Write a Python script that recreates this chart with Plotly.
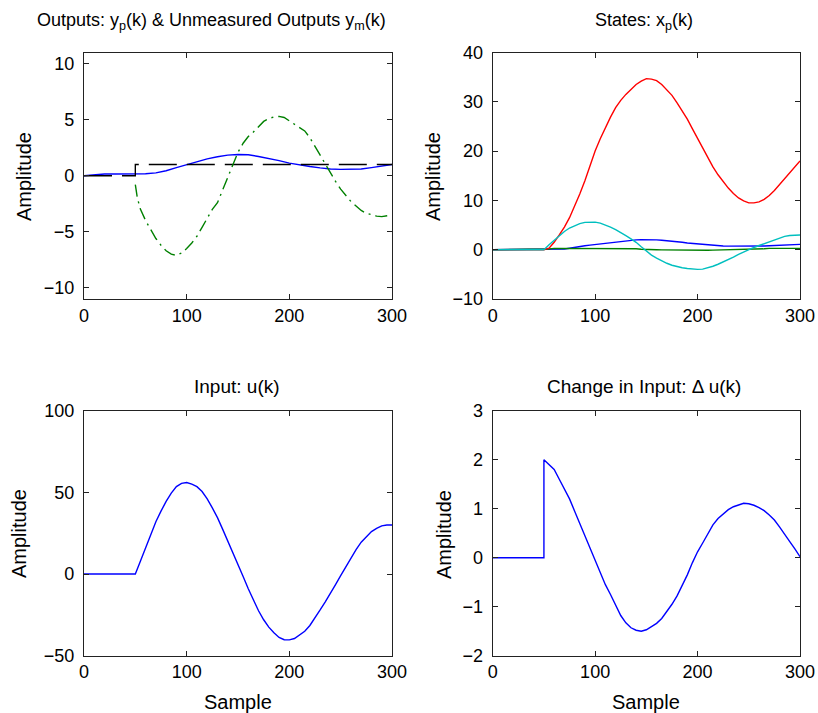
import plotly.graph_objects as go

# ---------------- data ----------------
# Top-left: outputs
k_ref = [0, 50, 50, 300]
ref_val = [0, 0, 1, 1]

k_yp = [0, 10, 20, 30, 40, 50, 60, 70, 80, 90, 100, 110, 120, 130, 140, 150, 160, 170, 180,
        190, 200, 210, 220, 230, 240, 250, 260, 270, 280, 290, 300]
yp_val = [0.0, 0.08, 0.15, 0.15, 0.15, 0.15, 0.18, 0.26, 0.45, 0.72, 0.98, 1.25, 1.5, 1.7, 1.84,
          1.9, 1.87, 1.72, 1.55, 1.35, 1.13, 0.95, 0.82, 0.7, 0.6, 0.57, 0.57, 0.6, 0.72, 0.88, 1.0]

k_ym = [50, 52, 55, 60, 65, 70, 75, 80, 85, 90, 95, 100, 105, 110, 115, 120, 125, 130, 135, 140,
        145, 150, 155, 160, 165, 170, 175, 180, 185, 190, 195, 200, 205, 210, 215, 220, 225, 230,
        235, 240, 245, 250, 255, 260, 265, 270, 275, 280, 285, 290, 295, 300]
ym_val = [-0.8, -2.0, -3.0, -4.0, -4.8, -5.6, -6.2, -6.7, -7.0, -7.1, -6.9, -6.5, -6.0, -5.4, -4.6,
          -3.8, -3.0, -2.4, -1.3, -0.2, 1.0, 2.1, 2.9, 3.5, 3.9, 4.4, 4.85, 5.1, 5.25, 5.3, 5.2, 4.9,
          4.6, 4.3, 4.0, 3.4, 2.6, 1.8, 1.0, 0.3, -0.5, -1.2, -1.8, -2.3, -2.7, -3.1, -3.35, -3.5,
          -3.6, -3.65, -3.6, -3.5]

# Top-right: states
k_st = [0, 50, 55, 60, 65, 70, 75, 80, 85, 90, 95, 100, 105, 110, 115, 120, 125, 130, 135, 140,
        145, 150, 155, 160, 165, 170, 175, 180, 185, 190, 195, 200, 205, 210, 215, 220, 225, 230,
        235, 240, 245, 250, 255, 260, 265, 270, 275, 280, 285, 290, 295, 300]
x1_val = [0, 0, 0, 0, 0.05, 0.15, 0.3, 0.5, 0.65, 0.8, 0.92, 1.05, 1.18, 1.3, 1.42, 1.55, 1.68,
          1.8, 1.9, 2.0, 2.03, 2.05, 2.03, 2.0, 1.93, 1.85, 1.75, 1.65, 1.5, 1.35, 1.25, 1.15, 1.05,
          0.95, 0.86, 0.78, 0.75, 0.72, 0.71, 0.7, 0.7, 0.7, 0.71, 0.72, 0.76, 0.8, 0.86, 0.92, 0.98,
          1.05, 1.07, 1.08]
x2_val = [0, 0, 0.15, 0.26, 0.26, 0.26, 0.26, 0.26, 0.26, 0.26, 0.26, 0.26, 0.26, 0.26, 0.26, 0.26,
          0.26, 0.26, 0.24, 0.2, 0.1, 0.02, 0.0, -0.02, -0.04, -0.06, -0.08, -0.1, -0.1, -0.1, -0.1,
          -0.1, -0.1, -0.1, -0.08, -0.06, -0.05, -0.04, -0.03, -0.02, -0.01, 0.0, 0.02, 0.08, 0.18,
          0.26, 0.26, 0.26, 0.26, 0.26, 0.26, 0.26]
x3_val = [0, 0, 0.3, 1.5, 3.0, 4.6, 6.5, 8.8, 11.3, 14.0, 17.0, 20.0, 22.5, 24.8, 26.9, 28.8, 30.3,
          31.5, 32.6, 33.5, 34.2, 34.7, 34.6, 34.3, 33.5, 32.5, 31.3, 29.8, 28.2, 26.5, 24.5, 22.5,
          20.5, 18.5, 16.8, 15.2, 13.8, 12.5, 11.4, 10.5, 9.9, 9.5, 9.5, 9.7, 10.2, 11.0, 12.0, 13.2,
          14.4, 15.6, 16.8, 18.0]
x4_val = [0, 0, 1.0, 1.9, 2.85, 3.7, 4.4, 4.9, 5.3, 5.55, 5.65, 5.6, 5.4, 5.05, 4.6, 4.05, 3.5,
          2.85, 2.2, 1.5, 0.6, -0.35, -1.1, -1.7, -2.3, -2.75, -3.15, -3.45, -3.65, -3.8, -3.95,
          -4.0, -3.95, -3.7, -3.35, -2.95, -2.5, -2.0, -1.5, -0.95, -0.45, 0.05, 0.45, 0.85, 1.25,
          1.65, 2.05, 2.4, 2.7, 2.88, 2.95, 2.97]

# Bottom-left: input u(k)
k_u = [0, 50, 55, 60, 65, 70, 75, 80, 85, 90, 95, 100, 105, 110, 115, 120, 125, 130, 135, 140,
       145, 150, 155, 160, 165, 170, 175, 180, 185, 190, 195, 200, 205, 210, 215, 220, 225, 230,
       235, 240, 245, 250, 255, 260, 265, 270, 275, 280, 285, 290, 295, 300]
u_val = [0, 0, 8, 16, 24.5, 32, 38.5, 44.5, 49.5, 53.5, 55.5, 56, 55, 53.5, 50.5, 46, 40.5, 34.5,
         27.5, 20.5, 13.5, 6, -1.5, -9, -16, -22.5, -28, -32.5, -36, -38.8, -40.2, -40.3, -39.5,
         -37.5, -35, -31.5, -27, -22, -17, -12, -6.5, -1, 4.5, 10, 15, 19.5, 23, 26, 28, 29.5, 30,
         30]

# Bottom-right: change in input
k_du = [0, 50, 50, 55, 60, 65, 70, 75, 80, 85, 90, 95, 100, 105, 110, 115, 120, 125, 130, 135, 140,
        145, 150, 155, 160, 165, 170, 175, 180, 185, 190, 195, 200, 205, 210, 215, 220, 225, 230,
        235, 240, 245, 250, 255, 260, 265, 270, 275, 280, 285, 290, 295, 300]
du_val = [0, 0, 2.0, 1.9, 1.8, 1.6, 1.4, 1.2, 0.95, 0.7, 0.45, 0.2, -0.05, -0.3, -0.55, -0.75,
          -0.98, -1.18, -1.33, -1.43, -1.48, -1.5, -1.47, -1.41, -1.34, -1.24, -1.1, -0.95, -0.78,
          -0.58, -0.35, -0.1, 0.12, 0.3, 0.5, 0.67, 0.8, 0.9, 0.98, 1.04, 1.08, 1.11, 1.1, 1.07,
          1.02, 0.96, 0.87, 0.77, 0.63, 0.47, 0.33, 0.18, 0.02]

x_ticks = [0, 100, 200, 300]

# ---------------- figure ----------------
BLUE = "#0000ff"
GREEN = "#008000"
RED = "#ff0000"
CYAN = "#00bfbf"
LW = 1.4
FONT = "Liberation Sans, Arial, sans-serif"

fig = go.Figure()

# top-left
fig.add_trace(go.Scatter(x=k_yp, y=yp_val, mode="lines", line=dict(color=BLUE, width=LW),
                         xaxis="x", yaxis="y"))
fig.add_trace(go.Scatter(x=k_ref, y=ref_val, mode="lines",
                         line=dict(color="black", width=LW, dash="28px,10px"),
                         xaxis="x", yaxis="y"))
fig.add_trace(go.Scatter(x=k_ym, y=ym_val, mode="lines",
                         line=dict(color=GREEN, width=LW, dash="12px,5px,2px,5px"),
                         xaxis="x", yaxis="y"))
# top-right
for vals, col in [(x1_val, BLUE), (x2_val, GREEN), (x3_val, RED), (x4_val, CYAN)]:
    fig.add_trace(go.Scatter(x=k_st, y=vals, mode="lines", line=dict(color=col, width=LW),
                             xaxis="x2", yaxis="y2"))
# bottom-left
fig.add_trace(go.Scatter(x=k_u, y=u_val, mode="lines", line=dict(color=BLUE, width=LW),
                         xaxis="x3", yaxis="y3"))
# bottom-right
fig.add_trace(go.Scatter(x=k_du, y=du_val, mode="lines", line=dict(color=BLUE, width=LW),
                         xaxis="x4", yaxis="y4"))

W, H = 818, 713
LEFT = [84 / W, 392 / W]
RIGHT = [492.7 / W, 800 / W]
TOP = [1 - 299 / H, 1 - 52.5 / H]
BOT = [1 - 655.7 / H, 1 - 410.7 / H]

def xax(domain, anchor):
    return dict(domain=domain, anchor=anchor, range=[0, 300], tickvals=x_ticks,
                ticks="inside", ticklen=5, tickcolor="#222", showline=True, linecolor="#222",
                linewidth=1.2, mirror="ticks", showgrid=False, zeroline=False,
                tickfont=dict(family=FONT, size=18, color="black"))

def yax(domain, anchor, rng, tv):
    return dict(domain=domain, anchor=anchor, range=rng, tickvals=tv,
                ticks="inside", ticklen=5, tickcolor="#222", showline=True, linecolor="#222",
                linewidth=1.2, mirror="ticks", showgrid=False, zeroline=False,
                ticklabelstandoff=5,
                tickfont=dict(family=FONT, size=18, color="black"))

fig.update_layout(
    width=W, height=H, margin=dict(l=0, r=0, t=0, b=0, autoexpand=False),
    paper_bgcolor="white", plot_bgcolor="white", showlegend=False,
    font=dict(family=FONT, color="black"),
    xaxis=xax(LEFT, "y"), yaxis=yax(TOP, "x", [-11, 11], [-10, -5, 0, 5, 10]),
    xaxis2=xax(RIGHT, "y2"), yaxis2=yax(TOP, "x2", [-10, 40], [-10, 0, 10, 20, 30, 40]),
    xaxis3=xax(LEFT, "y3"), yaxis3=yax(BOT, "x3", [-50, 100], [-50, 0, 50, 100]),
    xaxis4=xax(RIGHT, "y4"), yaxis4=yax(BOT, "x4", [-2, 3], [-2, -1, 0, 1, 2, 3]),
)

ann = []
def text(x_px, y_px, s, size=19, angle=0):
    ann.append(dict(x=x_px / W, y=1 - y_px / H, xref="paper", yref="paper", text=s,
                    showarrow=False, xanchor="center", yanchor="middle", textangle=angle,
                    font=dict(family=FONT, size=size, color="black")))

text(212, 21, "Outputs: y<sub>p</sub>(k) &amp; Unmeasured Outputs y<sub>m</sub>(k)", size=18)
text(644, 21, "States: x<sub>p</sub>(k)", size=18)
text(237, 387, "Input: u(k)")
text(644, 386, "Change in Input: \u0394 u(k)")
for xp, yp in [(24, 177), (433, 177), (19, 534), (444, 534)]:
    text(xp, yp, "Amplitude", size=20, angle=-90)
text(238, 702, "Sample", size=20)
text(646, 702, "Sample", size=20)
fig.update_layout(annotations=ann)

fig.write_html("out.html", post_script="document.body.style.margin='0';")
